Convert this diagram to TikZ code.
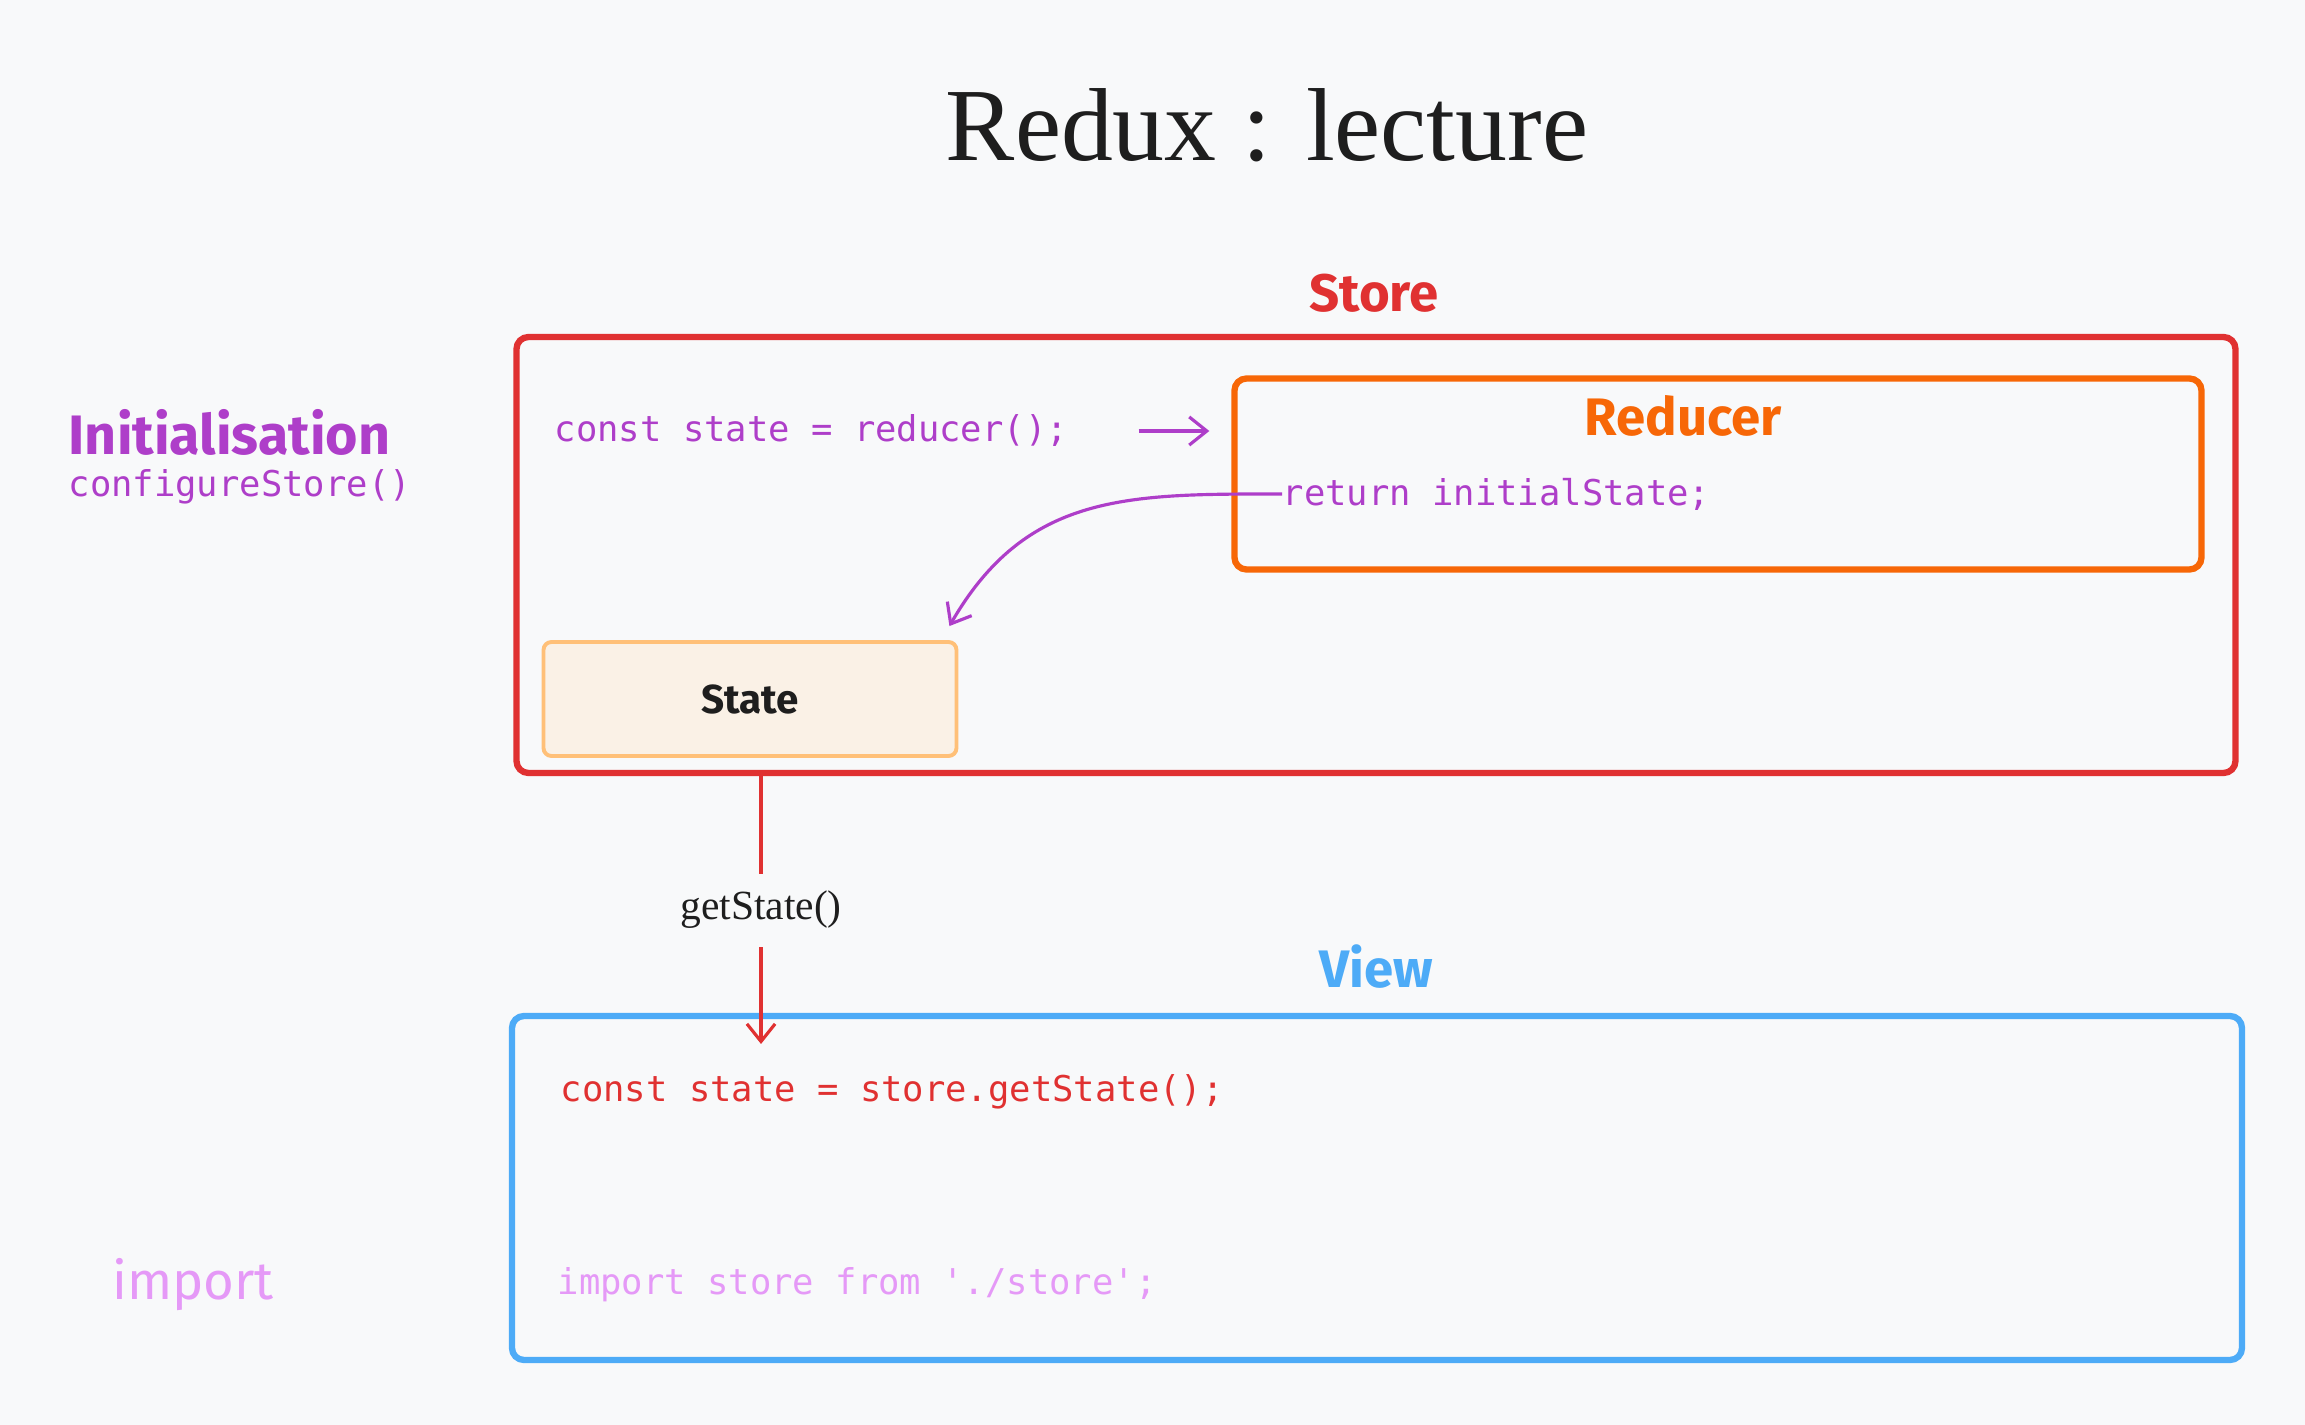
\documentclass[tikz,border=0pt]{standalone}
\usepackage{fontspec}
\setmainfont{Liberation Serif}
\setmonofont{DejaVu Sans Mono}
\newfontfamily\handfont{Fira Sans}
\usetikzlibrary{arrows.meta}

\definecolor{bgcol}{HTML}{F8F9FA}
\definecolor{storered}{HTML}{E03131}
\definecolor{reducerorange}{HTML}{F76707}
\definecolor{codepurple}{HTML}{AE3EC9}
\definecolor{viewblue}{HTML}{4DABF7}
\definecolor{importpink}{HTML}{E599F7}
\definecolor{statefill}{HTML}{FAF1E6}
\definecolor{stateline}{HTML}{FFC078}
\definecolor{inkcol}{HTML}{1E1E1E}

\tikzset{
  bigbox/.style={draw, line width=1.8pt, rounded corners=0.12cm, inner sep=0pt},
  code/.style={anchor=west, inner sep=0pt, font=\ttfamily\fontsize{10.1}{12}\selectfont},
  hand/.style={inner sep=0pt, font=\handfont\bfseries\fontsize{15}{18}\selectfont},
  barb/.style={-{Straight Barb[length=5pt,width=8pt]}, line width=0.9pt},
}

\begin{document}
\begin{tikzpicture}[x=0.01cm, y=-0.01cm]
    \fill[bgcol] (0,0) rectangle (2305,1425);
    \useasboundingbox (0,0) rectangle (2305,1425);

    % Title
    \node[inkcol, inner sep=0pt, font=\fontsize{29.5}{34}\selectfont] (title) at (1267,125) {Redux : lecture};

    % Store
    \node[hand, storered] (storelbl) at (1374,293) {Store};
    \node[bigbox, storered, minimum width=1719*0.01cm, minimum height=436*0.01cm] (store) at (1376,555) {};
    \node[bigbox, reducerorange, minimum width=967*0.01cm, minimum height=191*0.01cm] (reducer) at (1718,474) {};
    \node[hand, reducerorange] (reducerlbl) at (1683,416) {Reducer};
    \node[code, codepurple] (callred) at (554,431) {const state = reducer();};
    \node[code, codepurple] (ret) at (1282,494) {return initialState;};
    \node[draw=stateline, fill=statefill, line width=1.1pt, rounded corners=0.08cm,
          minimum width=413*0.01cm, minimum height=114*0.01cm,
          font=\handfont\bfseries\fontsize{11.5}{14}\selectfont, text=inkcol] (state) at (750,699) {State};

    \draw[barb, codepurple] ([xshift=70*0.01cm]callred.east) -- ([xshift=-22*0.01cm]reducer.west |- callred.east);
    \draw[barb, codepurple] (ret.west) to[out=180, in=60, looseness=1.1] ([shift={(-9,-14)}]state.north east);

    % Initialisation
    \node[hand, codepurple, anchor=west, font=\handfont\bfseries\fontsize{15.8}{19}\selectfont] (initlbl) at (68,432) {Initialisation};
    \node[code, codepurple] (conf) at (68,487) {configureStore()};

    % View
    \node[hand, viewblue] (viewlbl) at (1376,967) {View};
    \node[bigbox, viewblue, minimum width=1730*0.01cm, minimum height=344*0.01cm] (view) at (1377,1188) {};
    \node[code, storered] (getcode) at (560,1092) {const state = store.getState();};
    \node[code, importpink] (impcode) at (557,1285) {import store from './store';};
    \node[hand, importpink, font=\handfont\fontsize{15}{18}\selectfont] (implbl) at (193,1285) {import};

    % getState
    \coordinate (getend) at (761,1044);
    \draw[barb, storered] (getend |- store.south) -- node[fill=bgcol, inner xsep=2pt, inner ysep=5pt, text=inkcol, font=\fontsize{11.8}{14}\selectfont] (getlbl) {getState()} (getend);
\end{tikzpicture}
\end{document}
